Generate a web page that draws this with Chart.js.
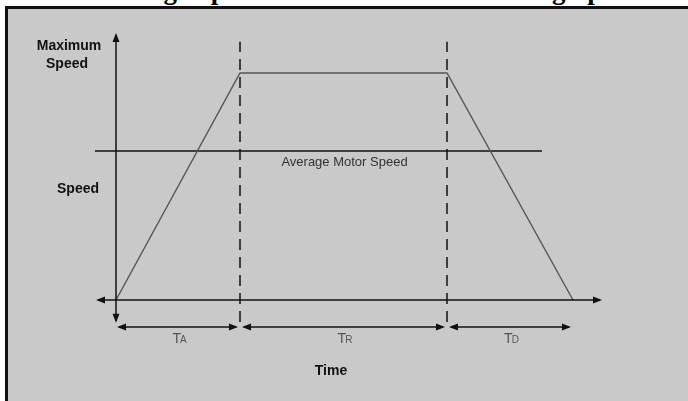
<!DOCTYPE html>
<html>
<head>
<meta charset="utf-8">
<script src="https://cdn.jsdelivr.net/npm/chart.js@4.4.1/dist/chart.umd.min.js"></script>
<style>
  html, body { margin: 0; padding: 0; background: #fff; width: 688px; height: 401px; overflow: hidden; }
  #frame { position: absolute; left: 5px; top: 6px; width: 700px; height: 420px; background: #c9c9c9;
           border-left: 3px solid #111; border-top: 3px solid #111; }
  #title { position: absolute; left: 95px; top: -23px; font: bold 27px "Liberation Serif"; line-height: 26px;
           white-space: nowrap; color: #000; }
  canvas { position: absolute; left: 0; top: 0; }
</style>
</head>
<body>
<div id="title">Average Speed in Relation to the Moving Speed</div>
<div id="frame"></div>
<canvas id="chart" width="688" height="401"></canvas>
<script>
// time at the end of each phase (start, end of TA, end of TR, end of TD)
const phaseTimes = [0, 1.24, 3.31, 4.57];
const profileSpeed = [0, 1, 1, 0];
const phaseLabels = [["T", "A"], ["T", "R"], ["T", "D"]];

const averageSpeed = 0.656;
const averageSpan = [-0.21, 4.26];
const averageLabel = "Average Motor Speed";

// dashed markers at the end of TA and TR
const markerTimes = [1.24, 3.31];
const markerSpan = [-0.097, 1.137];

const yLabelTop = ["Maximum", "Speed"];
const yLabelMid = "Speed";
const xLabel = "Time";

const X_MIN = -0.2, X_MAX = 4.86;
const Y_MIN = -0.119, Y_MAX = 1.176;

function arrowHead(ctx, x, y, dir) {
  const len = 9, half = 3.5;
  ctx.beginPath();
  ctx.moveTo(x, y);
  if (dir === "left") { ctx.lineTo(x + len, y - half); ctx.lineTo(x + len, y + half); }
  if (dir === "right") { ctx.lineTo(x - len, y - half); ctx.lineTo(x - len, y + half); }
  if (dir === "up") { ctx.lineTo(x - half, y + len); ctx.lineTo(x + half, y + len); }
  if (dir === "down") { ctx.lineTo(x - half, y - len); ctx.lineTo(x + half, y - len); }
  ctx.closePath();
  ctx.fill();
}

function hLine(ctx, x1, x2, y) {
  ctx.beginPath();
  ctx.moveTo(x1, y);
  ctx.lineTo(x2, y);
  ctx.stroke();
}

const diagramPlugin = {
  id: "diagram",
  afterDatasetsDraw(chart) {
    const ctx = chart.ctx;
    const xs = chart.scales.x, ys = chart.scales.y;
    const px = v => xs.getPixelForValue(v);
    const py = v => ys.getPixelForValue(v);
    ctx.save();
    ctx.strokeStyle = "#111";
    ctx.fillStyle = "#111";
    ctx.lineWidth = 1.5;

    // time axis
    const y0 = py(0);
    hLine(ctx, px(X_MIN) + 2, px(X_MAX) - 2, y0);
    arrowHead(ctx, px(X_MIN), y0, "left");
    arrowHead(ctx, px(X_MAX), y0, "right");

    // speed axis
    const x0 = px(0);
    ctx.beginPath();
    ctx.moveTo(x0, py(Y_MAX) + 2);
    ctx.lineTo(x0, py(-0.1) - 2);
    ctx.stroke();
    arrowHead(ctx, x0, py(Y_MAX), "up");
    arrowHead(ctx, x0, py(-0.1), "down");

    // phase dimension lines
    const yd = py(Y_MIN);
    for (let i = 0; i < 3; i++) {
      const a = px(phaseTimes[i]) + (i === 0 ? 1 : 2);
      const b = px(phaseTimes[i + 1]) - 2;
      hLine(ctx, a + 2, b - 2, yd);
      arrowHead(ctx, a, yd, "left");
      arrowHead(ctx, b, yd, "right");

      const mid = (px(phaseTimes[i]) + px(phaseTimes[i + 1])) / 2;
      ctx.fillStyle = "#555";
      ctx.font = "14px 'Liberation Sans'";
      const wT = ctx.measureText(phaseLabels[i][0]).width;
      ctx.font = "10px 'Liberation Sans'";
      const wS = ctx.measureText(phaseLabels[i][1]).width;
      const start = mid - (wT + wS) / 2 + 2;
      ctx.textBaseline = "alphabetic";
      ctx.textAlign = "left";
      ctx.font = "14px 'Liberation Sans'";
      ctx.fillText(phaseLabels[i][0], start, yd + 16);
      ctx.font = "10px 'Liberation Sans'";
      ctx.fillText(phaseLabels[i][1], start + wT - 1, yd + 16);
      ctx.fillStyle = "#111";
    }

    // texts
    ctx.textAlign = "center";
    ctx.textBaseline = "middle";
    ctx.fillStyle = "#111";
    ctx.font = "bold 14px 'Liberation Sans'";
    ctx.fillText(yLabelTop[0], 69, py(1) - 27);
    ctx.fillText(yLabelTop[1], 67, py(1) - 9);
    ctx.fillText(yLabelMid, 78, py(0.49));
    ctx.fillText(xLabel, 331, yd + 44);

    ctx.fillStyle = "#333";
    ctx.font = "13px 'Liberation Sans'";
    ctx.fillText(averageLabel, (px(markerTimes[0]) + px(markerTimes[1])) / 2 + 1, py(averageSpeed) + 11);
    ctx.restore();
  }
};

new Chart(document.getElementById("chart"), {
  type: "scatter",
  data: {
    datasets: [
      {
        data: phaseTimes.map((t, i) => ({ x: t, y: profileSpeed[i] })),
        showLine: true, borderColor: "#555", borderWidth: 1.4, pointRadius: 0, fill: false
      },
      {
        data: averageSpan.map(t => ({ x: t, y: averageSpeed })),
        showLine: true, borderColor: "#111", borderWidth: 1.5, pointRadius: 0, clip: false
      },
      ...markerTimes.map(t => ({
        data: markerSpan.map(s => ({ x: t, y: s })),
        showLine: true, borderColor: "#111", borderWidth: 1.5, borderDash: [11, 7], pointRadius: 0
      }))
    ]
  },
  options: {
    responsive: false,
    animation: false,
    layout: { padding: { left: 96, right: 86, top: 33, bottom: 74 } },
    plugins: { legend: { display: false }, tooltip: { enabled: false } },
    scales: {
      x: { type: "linear", min: X_MIN, max: X_MAX, display: false },
      y: { type: "linear", min: Y_MIN, max: Y_MAX, display: false }
    }
  },
  plugins: [diagramPlugin]
});
</script>
</body>
</html>
